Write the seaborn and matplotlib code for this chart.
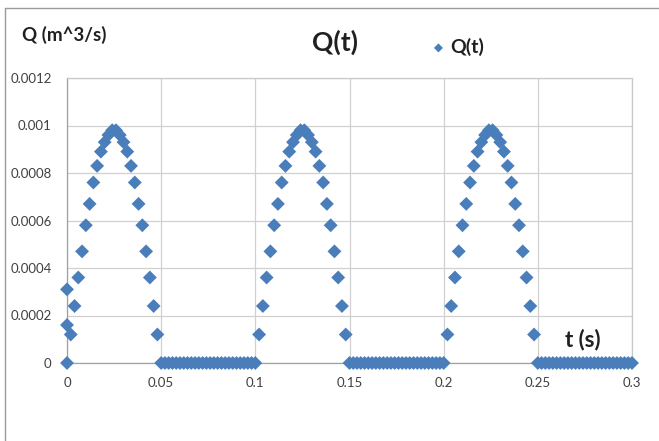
import numpy as np
import pandas as pd
import matplotlib
matplotlib.use("Agg")
import matplotlib.pyplot as plt
from matplotlib.lines import Line2D
import seaborn as sns

# ---- data ----
dt = 0.002                      # sampling step of t (s)
n_samples = 151                 # t = 0 .. 0.3
# one pulse, k = 0..24
pulse_q = [0, 0.00012, 0.00024, 0.00036, 0.00047, 0.00058, 0.00067, 0.00076,
           0.00083, 0.00089, 0.00093, 0.00096, 0.00098, 0.00098, 0.00096,
           0.00093, 0.00089, 0.00083, 0.00076, 0.00067, 0.00058, 0.00047,
           0.00036, 0.00024, 0.00012]
rest_q = [0.0] * 25             # flat part between pulses
n_periods = 3
extra_t = [0.0, 0.0]            # two extra points at t = 0
extra_q = [0.00016, 0.00031]

x_ticks = [0, 0.05, 0.1, 0.15, 0.2, 0.25, 0.3]
x_tick_labels = ["0", "0.05", "0.1", "0.15", "0.2", "0.25", "0.3"]
y_ticks = [0, 0.0002, 0.0004, 0.0006, 0.0008, 0.001, 0.0012]
y_tick_labels = ["0", "0.0002", "0.0004", "0.0006", "0.0008", "0.001", "0.0012"]

q_main = (pulse_q + rest_q) * n_periods + [0.0]
t_main = list(np.round(np.arange(n_samples) * dt, 4))
df = pd.DataFrame({"t": t_main + extra_t, "Q": q_main + extra_q})

# ---- style ----
sns.set_theme(style="white")
plt.rcParams["font.family"] = ["Lato", "DejaVu Sans"]

fig = plt.figure(figsize=(6.59, 4.41), dpi=100)
ax = fig.add_axes([67 / 659, 1 - 363 / 441, (632 - 67) / 659, (363 - 78) / 441])

sns.scatterplot(data=df, x="t", y="Q", marker="D", s=50, color="#4A7EBB",
                edgecolor="none", linewidth=0, label="Q(t)", ax=ax, zorder=3,
                clip_on=False)

ax.set_xlim(0, 0.3)
ax.set_ylim(0, 0.0012)
ax.set_xticks(x_ticks)
ax.set_xticklabels(x_tick_labels)
ax.set_yticks(y_ticks)
ax.set_yticklabels(y_tick_labels)
ax.tick_params(axis="both", length=0, labelsize=9.5, colors="#404040")
ax.tick_params(axis="x", pad=10)
ax.tick_params(axis="y", pad=11)
ax.grid(True, color="#D0D0D0", linewidth=0.9)
for sp in ax.spines.values():
    sp.set_color("#C8C8C8")
    sp.set_linewidth(0.9)
ax.spines["left"].set_color("#A0A0A0")
ax.spines["bottom"].set_color("#A0A0A0")

ax.set_xlabel("t (s)", fontsize=16, fontweight="bold", color="#202020",
              va="center", ha="center")
ax.xaxis.set_label_coords((583 - 67) / (632 - 67), (363 - 340) / (363 - 78))
ax.set_ylabel("Q (m^3/s)", fontsize=13.5, fontweight="bold", rotation=0,
              color="#202020", ha="left", va="center")
ax.yaxis.set_label_coords((22 - 67) / (632 - 67), (363 - 35) / (363 - 78))

ax.set_title("")
fig.text(335 / 659, 1 - 42 / 441, "Q(t)", fontsize=19, fontweight="bold",
         ha="center", va="center", color="#202020")

leg = ax.legend(loc="center left", bbox_to_anchor=(419 / 659, 1 - 47 / 441),
                bbox_transform=fig.transFigure, frameon=False,
                handlelength=0.6, handletextpad=0.3, markerscale=0.65,
                borderpad=0.2, prop={"weight": "bold", "size": 14})
for txt in leg.get_texts():
    txt.set_color("#202020")

# chart-area border (top and left visible)
fig.add_artist(Line2D([5 / 659, 1.0], [1 - 8 / 441, 1 - 8 / 441],
                      transform=fig.transFigure, color="#9A9A9A", linewidth=1))
fig.add_artist(Line2D([5 / 659, 5 / 659], [1 - 8 / 441, 0.0],
                      transform=fig.transFigure, color="#9A9A9A", linewidth=1))

fig.savefig("out.png", dpi=100)
